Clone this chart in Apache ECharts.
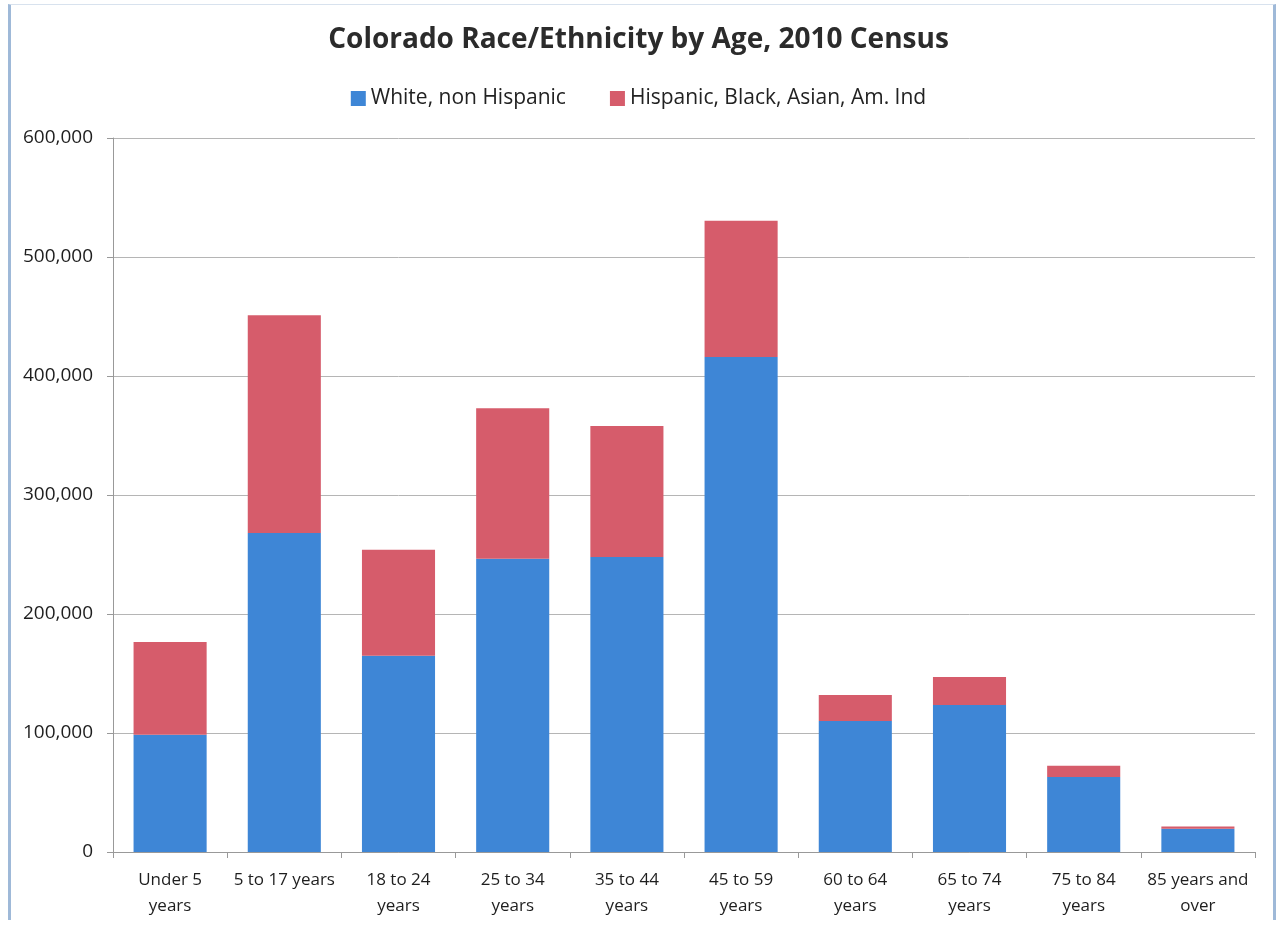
<!DOCTYPE html>
<html style="height: 100%;">
<head>
<meta charset="utf-8">
<script src="https://cdn.jsdelivr.net/npm/echarts@6/dist/echarts.min.js"></script>
</head>
<body style="height: 100%; margin: 0; background: #fff;">
<div id="container" style="position:absolute; left:0; top:0; width:1277px; height:925px;"></div>
<div style="position:absolute; left:8px; top:4px; width:1262px; height:915px; border-left:3px solid #9fb9d8; border-right:3px solid #9fb9d8; border-top:1px solid #d8e2ee; pointer-events:none;"></div>
<script>
var ageGroups = ['Under 5\nyears', '5 to 17 years', '18 to 24\nyears', '25 to 34\nyears', '35 to 44\nyears',
  '45 to 59\nyears', '60 to 64\nyears', '65 to 74\nyears', '75 to 84\nyears', '85 years and\nover'];
var whiteNonHispanic = [98500, 268000, 165000, 246500, 248000, 416000, 110000, 123500, 63000, 19500];
var minorities = [78000, 183000, 89000, 126500, 110000, 114500, 22000, 23500, 9500, 2000];
var tickValues = [0, 100000, 200000, 300000, 400000, 500000, 600000];

var font = 'Open Sans';
var chart = echarts.init(document.getElementById('container'));
chart.setOption({
  animation: false,
  title: {
    text: 'Colorado Race/Ethnicity by Age, 2010 Census',
    left: 'center', top: 21,
    textStyle: { fontFamily: font, fontSize: 28, fontWeight: 'bold', color: '#2b2b2b' }
  },
  legend: {
    top: 83, left: 'center', itemGap: 44, itemWidth: 15, itemHeight: 15,
    icon: 'rect',
    textStyle: { fontFamily: font, fontSize: 21, color: '#222' }
  },
  grid: { left: 113, right: 22, top: 138, bottom: 73 },
  xAxis: {
    type: 'category',
    data: ageGroups,
    axisLine: { lineStyle: { color: '#999' } },
    axisTick: { show: true, alignWithLabel: false, length: 6, lineStyle: { color: '#999' } },
    axisLabel: { fontFamily: font, fontSize: 17, color: '#1e1e1e', lineHeight: 26, margin: 15, interval: 0 }
  },
  yAxis: {
    type: 'value', min: 0, max: 600000, interval: 100000,
    axisLine: { show: true, lineStyle: { color: '#999' } },
    axisTick: { show: true, length: 6, lineStyle: { color: '#999' } },
    splitLine: { lineStyle: { color: '#b5b5b5' } },
    axisLabel: {
      fontFamily: font, fontSize: 19, color: '#1e1e1e', margin: 20,
      formatter: function (v) { return tickValues.indexOf(v) >= 0 ? v.toLocaleString('en-US') : ''; }
    }
  },
  series: [
    {
      name: 'White, non Hispanic', type: 'bar', stack: 'pop',
      data: whiteNonHispanic, barWidth: '64%',
      itemStyle: { color: '#3e86d6' }
    },
    {
      name: 'Hispanic, Black, Asian, Am. Ind', type: 'bar', stack: 'pop',
      data: minorities, barWidth: '64%',
      itemStyle: { color: '#d65c6b' }
    }
  ]
});
</script>
</body>
</html>
